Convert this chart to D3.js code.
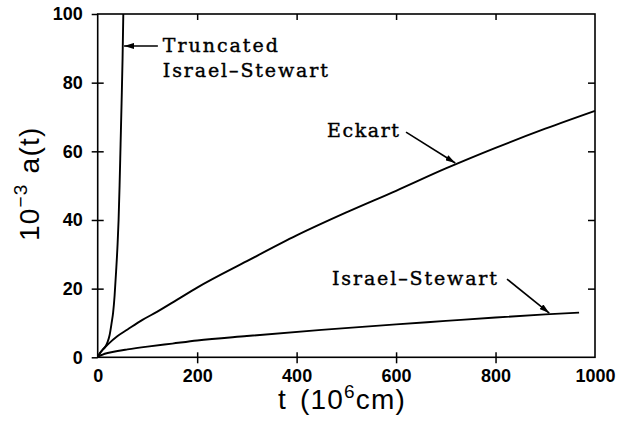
<!DOCTYPE html>
<html>
<head>
<meta charset="utf-8">
<script src="https://cdn.jsdelivr.net/npm/d3@7"></script>
<style>
  html, body { margin: 0; padding: 0; background: #fff; }
  svg { display: block; }
  .tick text { font-family: "Liberation Sans", Arial, sans-serif; font-weight: bold; font-size: 18px; fill: #000; }
  .note { font-family: "DejaVu Serif", serif; font-size: 19px; fill: #000; stroke: #000; stroke-width: 0.4px; }
  .title { font-family: "Liberation Sans", Arial, sans-serif; font-size: 28px; letter-spacing: 1.2px; fill: #000; }
</style>
</head>
<body>
<svg id="chart" width="625" height="421"></svg>
<script>
// Time axis in units of 10^6 cm, scale factor a(t) in units of 10^3
const xTicks = [0, 200, 400, 600, 800, 1000];
const yTicks = [0, 20, 40, 60, 80, 100];

const eckartT = [0, 5, 10, 20, 40, 60, 90, 120, 160, 200, 300, 400, 500, 600, 700, 800, 900, 1000];
const eckartA = [0, 1.3, 2.2, 3.7, 6.2, 8.1, 10.9, 13.3, 16.8, 20.3, 28.0, 35.5, 42.2, 48.5, 55.0, 61.0, 66.6, 71.8];

const israelT = [0, 5, 10, 20, 40, 60, 100, 150, 200, 300, 450, 600, 700, 800, 900, 968];
const israelA = [0, 0.5, 0.8, 1.25, 1.85, 2.3, 3.1, 4.0, 4.9, 6.2, 8.0, 9.6, 10.6, 11.6, 12.5, 13.0];

const truncT = [0, 5, 10, 15, 20, 24, 28, 31, 34, 37, 40, 42, 44, 46, 48, 50, 51.5];
const truncA = [0, 1.3, 2.2, 3.0, 4.5, 6.5, 10, 13, 18, 25, 33, 40, 50, 62, 74, 87, 100];

// Curve labels: text anchor, arrow tail and arrow tip in data units, text width in px
const notes = [
  { lines: ["Truncated", "Israel\u2013Stewart"], widths: [115, 165], at: [131, 88.9], lineGap: 7.3, from: [121, 90.7], to: [53, 90.7] },
  { lines: ["Eckart"], widths: [72], at: [461, 64.2], lineGap: 0, from: [620, 65.6], to: [719, 56.6] },
  { lines: ["Israel\u2013Stewart"], widths: [165], at: [471, 21.1], lineGap: 0, from: [823, 22.8], to: [908, 12.9] }
];

const svg = d3.select("#chart");
const x = d3.scaleLinear().domain([0, 1000]).range([97.7, 595]);
const y = d3.scaleLinear().domain([0, 100]).range([357.3, 14]);
const [x0, x1] = x.range();
const [y0, y1] = y.range();

svg.append("defs").append("marker")
  .attr("id", "head")
  .attr("viewBox", "0 0 10 6")
  .attr("refX", 10).attr("refY", 3)
  .attr("markerWidth", 10).attr("markerHeight", 6)
  .attr("markerUnits", "userSpaceOnUse")
  .attr("orient", "auto")
  .append("path").attr("d", "M0,0 L10,3 L0,6 Z").attr("fill", "#000");

// frame
svg.append("rect")
  .attr("x", x0).attr("y", y1)
  .attr("width", x1 - x0).attr("height", y0 - y1)
  .attr("fill", "none").attr("stroke", "#000").attr("stroke-width", 1.6);

function styleAxis(g) {
  g.select(".domain").remove();
  g.selectAll(".tick line").attr("stroke", "#000").attr("stroke-width", 1.5);
}

// bottom axis: labels and outward ticks
const gb = svg.append("g").attr("transform", `translate(0,${y0})`)
  .call(d3.axisBottom(x).tickValues(xTicks).tickFormat(d3.format("d"))
    .tickSize(6).tickSizeOuter(0).tickPadding(6))
  .call(styleAxis);
gb.selectAll(".tick line").filter(d => d === 0 || d === 1000).remove();
// bottom inward ticks
svg.append("g").attr("transform", `translate(0,${y0})`)
  .call(d3.axisTop(x).tickValues(xTicks.slice(1, -1)).tickSize(5).tickFormat(""))
  .call(styleAxis);
// top inward ticks
svg.append("g").attr("transform", `translate(0,${y1})`)
  .call(d3.axisBottom(x).tickValues(xTicks.slice(1, -1)).tickSize(6).tickFormat(""))
  .call(styleAxis);

// left axis: labels and outward ticks
svg.append("g").attr("transform", `translate(${x0},0)`)
  .call(d3.axisLeft(y).tickValues(yTicks).tickFormat(d3.format("d"))
    .tickSize(6).tickSizeOuter(0).tickPadding(9))
  .call(styleAxis);
// left inward ticks
svg.append("g").attr("transform", `translate(${x0},0)`)
  .call(d3.axisRight(y).tickValues(yTicks.slice(1, -1)).tickSize(6).tickFormat(""))
  .call(styleAxis);
// right inward ticks
svg.append("g").attr("transform", `translate(${x1},0)`)
  .call(d3.axisLeft(y).tickValues(yTicks.slice(1, -1)).tickSize(7).tickFormat(""))
  .call(styleAxis);

// curves
const line = d3.line().x(d => x(d[0])).y(d => y(d[1])).curve(d3.curveMonotoneX);
const series = [
  d3.zip(eckartT, eckartA),
  d3.zip(israelT, israelA),
  d3.zip(truncT, truncA)
];
svg.append("g").selectAll("path").data(series).join("path")
  .attr("d", line)
  .attr("fill", "none").attr("stroke", "#000").attr("stroke-width", 1.9)
  .attr("stroke-linejoin", "round");

// labels with arrows
notes.forEach(n => {
  n.lines.forEach((s, i) => {
    svg.append("text").attr("class", "note")
      .attr("x", x(n.at[0]))
      .attr("y", y(n.at[1] - i * n.lineGap))
      .attr("textLength", n.widths[i])
      .attr("lengthAdjust", "spacing")
      .text(s);
  });
  svg.append("line")
    .attr("x1", x(n.from[0])).attr("y1", y(n.from[1]))
    .attr("x2", x(n.to[0])).attr("y2", y(n.to[1]))
    .attr("stroke", "#000").attr("stroke-width", 1.6)
    .attr("marker-end", "url(#head)");
});

// axis titles
const xt = svg.append("text").attr("class", "title").attr("x", 278).attr("y", 409);
xt.append("tspan").text("t");
xt.append("tspan").attr("dx", 13).text("(10");
xt.append("tspan").attr("dy", -11).attr("font-size", 19).text("6");
xt.append("tspan").attr("dy", 11).text("cm)");

const yt = svg.append("text").attr("class", "title")
  .attr("transform", "translate(39,241) rotate(-90)");
yt.append("tspan").text("10");
yt.append("tspan").attr("dy", -12).attr("font-size", 19).text("\u22123");
yt.append("tspan").attr("dy", 12).attr("dx", 10).text("a(t)");
</script>
</body>
</html>
